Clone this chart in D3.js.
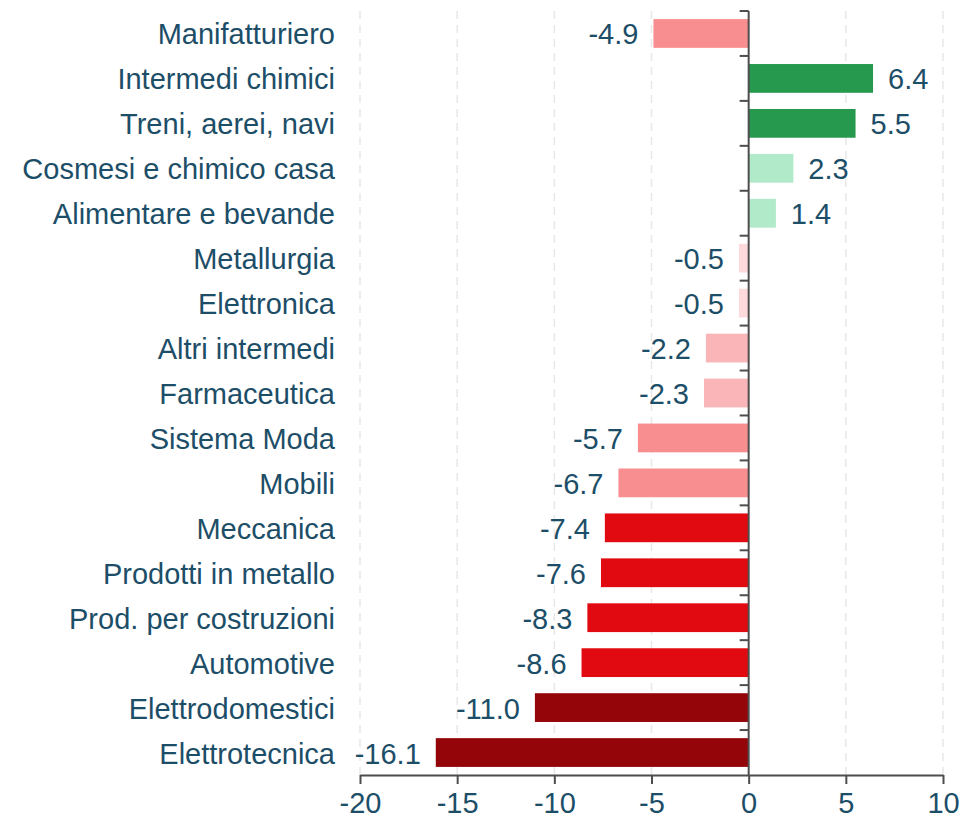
<!DOCTYPE html>
<html>
<head>
<meta charset="utf-8">
<script src="https://cdn.jsdelivr.net/npm/d3@7"></script>
<style>
  html, body { margin: 0; padding: 0; background: #fff; }
  text { font-family: "Liberation Sans", Arial, sans-serif; }
</style>
</head>
<body>
<div id="chart"></div>
<script>
var categories = ["Manifatturiero", "Intermedi chimici", "Treni, aerei, navi", "Cosmesi e chimico casa",
  "Alimentare e bevande", "Metallurgia", "Elettronica", "Altri intermedi", "Farmaceutica",
  "Sistema Moda", "Mobili", "Meccanica", "Prodotti in metallo", "Prod. per costruzioni",
  "Automotive", "Elettrodomestici", "Elettrotecnica"];
var values = [-4.9, 6.4, 5.5, 2.3, 1.4, -0.5, -0.5, -2.2, -2.3, -5.7, -6.7, -7.4, -7.6, -8.3, -8.6, -11.0, -16.1];
var barColors = ["#f98e90", "#27994f", "#27994f", "#b0eac9", "#b0eac9", "#fcdadb", "#fcdadb", "#f9b5b8", "#f9b5b8",
  "#f98e90", "#f98e90", "#e10a10", "#e10a10", "#e10a10", "#e10a10", "#94050a", "#94050a"];
var xTicks = [-20, -15, -10, -5, 0, 5, 10];

var data = categories.map(function (c, i) { return { name: c, value: values[i], color: barColors[i] }; });

var width = 964, height = 823;
var textColor = "#1d4e68", axisColor = "#4d4d4d";

var svg = d3.select("#chart").append("svg")
  .attr("width", width)
  .attr("height", height);

var x = d3.scaleLinear().domain([-20, 10]).range([360, 943]);
var y = d3.scaleBand().domain(categories).range([11, 775]).paddingInner(0.36).paddingOuter(0.18);

// dashed grid
svg.append("g").selectAll("line")
  .data(xTicks.filter(function (t) { return t !== 0; }))
  .enter().append("line")
  .attr("x1", function (d) { return x(d); })
  .attr("x2", function (d) { return x(d); })
  .attr("y1", 11)
  .attr("y2", 775)
  .attr("stroke", "#e8e8e8")
  .attr("stroke-width", 1.5)
  .attr("stroke-dasharray", "8,6");

// bars
svg.append("g").selectAll("rect")
  .data(data)
  .enter().append("rect")
  .attr("x", function (d) { return x(Math.min(0, d.value)); })
  .attr("y", function (d) { return y(d.name); })
  .attr("width", function (d) { return Math.abs(x(d.value) - x(0)); })
  .attr("height", y.bandwidth())
  .attr("fill", function (d) { return d.color; });

// value labels
svg.append("g").selectAll("text")
  .data(data)
  .enter().append("text")
  .attr("x", function (d) { return d.value < 0 ? x(d.value) - 15 : x(d.value) + 15; })
  .attr("y", function (d) { return y(d.name) + y.bandwidth() / 2; })
  .attr("dy", "0.38em")
  .attr("text-anchor", function (d) { return d.value < 0 ? "end" : "start"; })
  .attr("font-size", "29px")
  .attr("fill", textColor)
  .text(function (d) { return d.value.toFixed(1); });

// category labels
svg.append("g").selectAll("text")
  .data(data)
  .enter().append("text")
  .attr("x", 335)
  .attr("y", function (d) { return y(d.name) + y.bandwidth() / 2; })
  .attr("dy", "0.38em")
  .attr("text-anchor", "end")
  .attr("font-size", "29px")
  .attr("fill", textColor)
  .text(function (d) { return d.name; });

// x axis (plain hyphen minus like the original)
var xAxis = svg.append("g")
  .attr("transform", "translate(0,775)")
  .call(d3.axisBottom(x).tickValues(xTicks).tickFormat(function (d) { return String(d); })
    .tickSize(9).tickPadding(8).tickSizeOuter(0));
xAxis.select(".domain").attr("stroke", axisColor).attr("stroke-width", 2);
xAxis.selectAll(".tick line").attr("stroke", axisColor).attr("stroke-width", 2);
xAxis.selectAll(".tick text")
  .attr("font-size", "29px")
  .attr("font-family", "Liberation Sans, Arial, sans-serif")
  .attr("fill", textColor);

// y axis at zero, ticks on band boundaries
var boundaries = categories.map(function (c) { return y(c) - y.step() * y.paddingInner() / 2; });
svg.append("line")
  .attr("x1", x(0)).attr("x2", x(0))
  .attr("y1", 11).attr("y2", 775)
  .attr("stroke", axisColor).attr("stroke-width", 2);
svg.append("g").selectAll("line")
  .data(boundaries)
  .enter().append("line")
  .attr("x1", x(0) - 9).attr("x2", x(0))
  .attr("y1", function (d) { return d; })
  .attr("y2", function (d) { return d; })
  .attr("stroke", axisColor).attr("stroke-width", 2);
</script>
</body>
</html>
